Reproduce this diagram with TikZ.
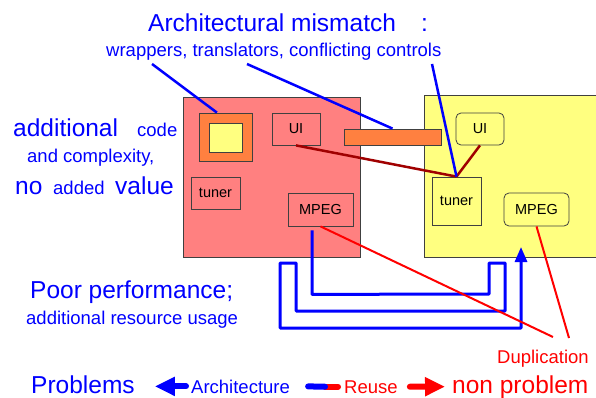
\documentclass[tikz,border=0pt]{standalone}
\usepackage{fontspec}
\setmainfont{Liberation Sans}
\usetikzlibrary{arrows.meta,calc}
\definecolor{pinkc}{HTML}{FF8080}
\definecolor{yelc}{HTML}{FFFF80}
\definecolor{oranc}{HTML}{FF8040}
\definecolor{bluec}{HTML}{0000FF}
\definecolor{dredc}{HTML}{A00000}
\definecolor{redc}{HTML}{FF0000}
\definecolor{edgec}{HTML}{404040}
\newcommand{\bigf}{\fontsize{24.5}{28}\selectfont}
\newcommand{\midf}{\fontsize{18.5}{22}\selectfont}
\newcommand{\smlf}{\fontsize{14.5}{17}\selectfont}
\begin{document}
\begin{tikzpicture}[x=1pt,y=-1pt,
  txt/.style={inner sep=0pt,anchor=base west,text=bluec},
  big/.style={txt,font=\bigf},
  mid/.style={txt,font=\midf},
  bigbox/.style={draw=edgec,line width=1pt,inner sep=0pt,anchor=north west},
  box/.style={draw=edgec,line width=0.8pt,inner sep=0pt,font=\smlf,text=black},
  rbox/.style={box,rounded corners=5pt},
  bline/.style={draw=bluec,line width=2.5pt},
  drline/.style={draw=dredc,line width=2.5pt},
  rline/.style={draw=redc,line width=2pt},
  pipe/.style={draw=bluec,line width=3pt,line join=round,-{Triangle[width=12pt,length=15pt]}},
  legbar/.style={line width=6pt,line cap=round}
]
\useasboundingbox (0,0) rectangle (596,398);
% big boxes
\node[bigbox,fill=pinkc,minimum width=177pt,minimum height=160pt] (pink) at (183,97) {};
\fill[yelc] (424,96) rectangle (600,257);
\node[inner sep=0pt,anchor=north west,minimum width=176pt,minimum height=161pt] (yel) at (424,96) {};
\draw[edgec,line width=1pt] (yel.north east) -- (yel.north west) -- (yel.south west) -- (yel.south east);
% components in pink box
\node[box,fill=oranc,minimum width=53pt,minimum height=48pt] (wrap) at (225.5,137) {};
\node[box,fill=yelc,minimum width=33pt,minimum height=29pt] (wrapin) at (225.5,137.5) {};
\node[box,minimum width=48pt,minimum height=32pt] (pui) at (296,129) {UI};
\node[box,minimum width=49pt,minimum height=32pt] (ptuner) at (215.5,193) {tuner};
\node[box,minimum width=65pt,minimum height=33pt] (pmpeg) at (320.5,209.5) {MPEG};
% components in yellow box
\node[rbox,minimum width=48pt,minimum height=32pt] (yui) at (480,129) {UI};
\node[box,minimum width=49pt,minimum height=48pt] (ytuner) at (456.5,201) {tuner};
\node[rbox,minimum width=65pt,minimum height=33pt] (ympeg) at (536.5,209.5) {MPEG};
% bar (wrapper between)
\node[box,fill=oranc,minimum width=97pt,minimum height=16pt] (bar) at (392.5,137) {};
% texts
\node[big] (archt) at (148,32) {Architectural mismatch};
\node[big] (colon) at (421,32) {:};
\node[mid] (wrapt) at (106,57) {wrappers, translators, conflicting controls};
\node[big] (addl) at (13,137) {additional};
\node[mid] (code) at (137,137) {code};
\node[mid] (andc) at (27,163) {and complexity,};
\node[big] (no) at (15,194) {no};
\node[mid] (added) at (53,194) {added};
\node[big] (value) at (115,194) {value};
\node[big] (poor) at (30,298) {Poor performance;};
\node[mid] (addres) at (26,324) {additional resource usage};
\node[mid,text=redc] (dup) at (497,363) {Duplication};
\node[big] (probs) at (31,393) {Problems};
\node[mid] (arch) at (191,393) {Architecture};
\node[mid,text=redc] (reuse) at (344,393) {Reuse};
\node[big,text=redc] (nonp) at (452,393) {non problem};
% free ends
\coordinate (c1) at (152,64);
\coordinate (c2) at (247,64);
\coordinate (c3) at (432,64);
\coordinate (d1) at (553,337);
\coordinate (d2) at (569,338);
% blue pipe (reuse path)
\draw[pipe] ($(pmpeg.south)+(-8.5,4)$) -- ++(0,64) -- (489,294) -- (489,263) -- (505,263) -- (505,311)
  -- (296,311) -- (296,263) -- (280,263) -- (280,328) -- (521,328) -- (521,247);
% mismatch connectors
\draw[bline] (c1) -- ($(wrap.north west)!0.34!(wrap.north east)$);
\draw[bline] (c2) -- (bar.north);
\draw[drline] (pui.south) -- (ytuner.north);
\draw[drline] (yui.south) -- (ytuner.north);
\draw[bline] (c3) -- (ytuner.north);
% duplication connectors
\draw[rline] (pmpeg.south) -- (d1);
\draw[rline] (ympeg.south) -- (d2);
% legend
\draw[legbar,draw=bluec,-{Triangle[width=18pt,length=20pt]}] ($(arch.west)+(-5,0)$) -- ($(probs.east |- arch.west)+(20,0)$);
\draw[legbar,draw=redc] ($(reuse.west)+(-19,0)$) -- ($(reuse.west)+(-6,0)$);
\draw[legbar,draw=bluec] ($(arch.east)+(18,0)$) -- ($(reuse.west)+(-19,0)$);
\draw[legbar,draw=redc,-{Triangle[width=18pt,length=20pt]}] ($(reuse.east)+(12,0)$) -- ($(nonp.west)+(-7,0)$);
\end{tikzpicture}
\end{document}
